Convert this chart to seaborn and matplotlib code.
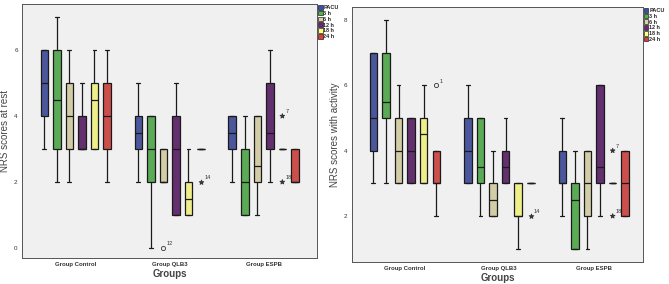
import matplotlib
matplotlib.use('Agg')
from matplotlib import pyplot as plt
from matplotlib.patches import Patch
import seaborn as sns
import pandas as pd

groups = ['Group Control', 'Group QLB3', 'Group ESPB']
times = ['PACU', '3 h', '6 h', '12 h', '18 h', '24 h']
colors = ['#3D4EAB', '#4DB848', '#D9D3A0', '#6A2479', '#FFFF7A', '#E33B36']

# five-number summaries read off the boxes: (low whisker, q1, median, q3, high whisker)
# one row per time point, one list per group
rest_control = [(3, 4, 5, 6, 6), (2, 3, 4.5, 6, 7), (2, 3, 4, 5, 6),
                (3, 3, 3, 4, 5), (3, 3, 4.5, 5, 6), (2, 3, 4, 5, 6)]
rest_qlb3 = [(2, 3, 3.5, 4, 5), (0, 2, 3, 4, 4), (2, 2, 2, 3, 3),
             (1, 1, 3, 4, 5), (1, 1, 1.5, 2, 3), (3, 3, 3, 3, 3)]
rest_espb = [(2, 3, 3.5, 4, 4), (1, 1, 2, 3, 4), (1, 2, 2.5, 4, 4),
             (2, 3, 3.5, 5, 6), (3, 3, 3, 3, 3), (2, 2, 2, 3, 3)]

act_control = [(3, 4, 5, 7, 7), (3, 5, 5.5, 7, 8), (3, 3, 4, 5, 6),
               (3, 3, 4, 5, 5), (3, 3, 4.5, 5, 6), (2, 3, 3, 4, 4)]
act_qlb3 = [(3, 3, 4, 5, 6), (2, 3, 3.5, 5, 5), (2, 2, 2.5, 3, 4),
            (3, 3, 3.5, 4, 5), (1, 2, 2, 3, 3), (3, 3, 3, 3, 3)]
act_espb = [(2, 3, 3, 4, 5), (1, 1, 2.5, 3, 4), (1, 2, 3, 4, 4),
            (2, 3, 3.5, 6, 6), (3, 3, 3, 3, 3), (2, 2, 3, 4, 4)]

# outliers: (group, time, value, case label, kind) kind 'o' = circle, '*' = extreme
rest_outliers = [('Group QLB3', '6 h', 0, '12', 'o'),
                 ('Group QLB3', '24 h', 2, '14', '*'),
                 ('Group ESPB', '18 h', 4, '7', '*'),
                 ('Group ESPB', '18 h', 2, '18', '*')]
act_outliers = [('Group Control', '24 h', 6, '1', 'o'),
                ('Group QLB3', '24 h', 2, '14', '*'),
                ('Group ESPB', '18 h', 4, '7', '*'),
                ('Group ESPB', '18 h', 2, '18', '*')]


def build_frame(summaries):
    # expand each summary into a sample whose quartiles and whiskers reproduce it
    rows = []
    for g, boxes in zip(groups, summaries):
        for t, (lo, q1, med, q3, hi) in zip(times, boxes):
            vals = [lo] + [q1] * 10 + [med] * 10 + [q3] * 10 + [hi]
            rows += [(g, t, v) for v in vals]
    return pd.DataFrame(rows, columns=['group', 'time', 'score'])


def draw_panel(ax, summaries, outliers, ylabel, ylim, yticks, xlim):
    df = build_frame(summaries)
    sns.boxplot(data=df, x='group', y='score', hue='time', order=groups,
                hue_order=times, palette=colors, width=0.8, gap=0.4,
                linecolor='#1a1a1a', linewidth=0.9, showfliers=False,
                legend=False, ax=ax)
    odf = pd.DataFrame(outliers, columns=['group', 'time', 'score', 'case', 'kind'])
    for kind, marker, size in [('o', 'o', 3.0), ('*', '*', 3.5)]:
        sub = odf[odf['kind'] == kind]
        if len(sub):
            sns.stripplot(data=sub, x='group', y='score', hue='time', order=groups,
                          hue_order=times, dodge=True, jitter=False, marker=marker,
                          size=size, palette=['none'] * 6 if kind == 'o' else ['#333333'] * 6,
                          edgecolor='#333333', linewidth=0.6, legend=False, ax=ax)
    slot = 0.8 / len(times)
    for _, r in odf.iterrows():
        xpos = groups.index(r['group']) + (times.index(r['time']) - 2.5) * slot
        ax.text(xpos + 0.035, r['score'] + 0.08, r['case'], fontsize=4, color='#333333')

    ax.set_facecolor('#F0F0F0')
    ax.set_xlim(*xlim)
    ax.set_ylim(*ylim)
    ax.set_yticks(yticks)
    ax.set_yticklabels([str(v) for v in yticks], fontsize=4.5)
    ax.set_xticks(range(len(groups)))
    ax.set_xticklabels(groups, fontsize=4.3, fontweight='bold', color='#333333')
    ax.tick_params(length=2, width=0.5, pad=1.2, colors='#333333')
    ax.set_xlabel('Groups', fontsize=7, fontweight='bold', color='#444444', labelpad=1.5)
    ax.set_ylabel(ylabel, fontsize=7, color='#444444', labelpad=3)
    for s in ax.spines.values():
        s.set_color('#555555')
        s.set_linewidth(0.7)
    handles = [Patch(facecolor=c, edgecolor='#222222', linewidth=0.5) for c in colors]
    leg = ax.legend(handles, times, loc='upper left', bbox_to_anchor=(1.0, 1.0),
                    borderaxespad=0.1, frameon=False, fontsize=4,
                    handlelength=0.8, handleheight=0.9, handletextpad=0.15,
                    labelspacing=0.1, borderpad=0.1)
    for txt in leg.get_texts():
        txt.set_fontweight('bold')


def main():
    sns.set_style('white')
    plt.rcParams['font.family'] = ['Liberation Sans', 'DejaVu Sans']

    fig = plt.figure(figsize=(6.69, 2.84), dpi=100)
    ax1 = fig.add_axes([0.033, 0.092, 0.441, 0.894])
    ax2 = fig.add_axes([0.526, 0.078, 0.435, 0.898])

    draw_panel(ax1, [rest_control, rest_qlb3, rest_espb], rest_outliers,
               'NRS scores at rest', (-0.3, 7.4), [0, 2, 4, 6], (-0.57, 2.57))
    draw_panel(ax2, [act_control, act_qlb3, act_espb], act_outliers,
               'NRS scores with activity', (0.6, 8.4), [2, 4, 6, 8], (-0.56, 2.52))

    fig.savefig('out.png', dpi=100)


if __name__ == "__main__":
    main()
